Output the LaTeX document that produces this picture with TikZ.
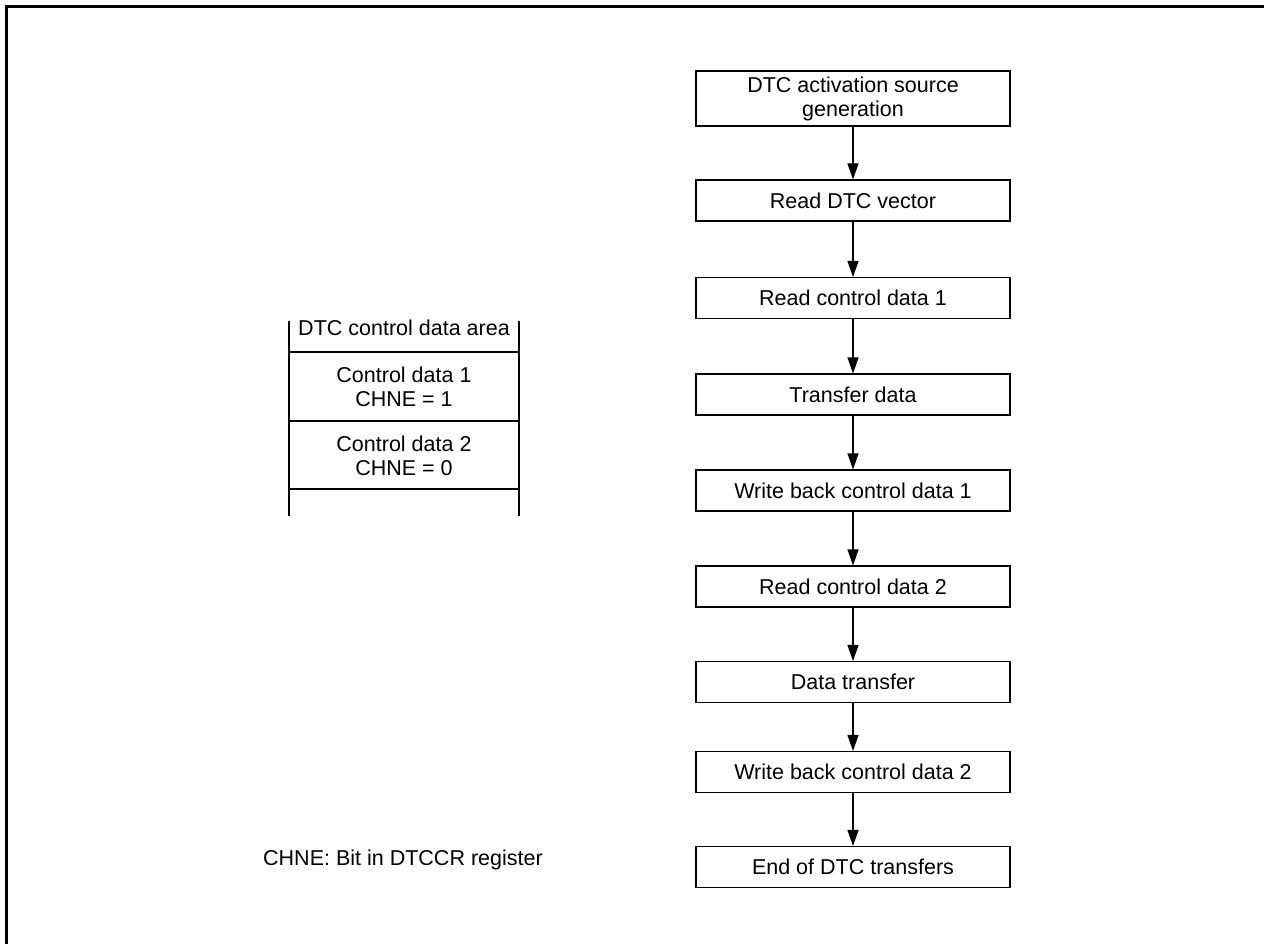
\documentclass[tikz,border=0pt]{standalone}
\usepackage{fontspec}
\setmainfont{Liberation Sans}
\usetikzlibrary{arrows.meta}
\tikzset{
  flowbox/.style={draw, line width=1.1pt, minimum width=314pt, minimum height=41pt, inner sep=0pt, align=center},
  tallbox/.style={flowbox, minimum height=55pt},
  arr/.style={line width=1.1pt, -{Triangle[length=16pt,width=11pt]}},
  lbl/.style={inner sep=0pt, align=center},
  frameline/.style={line width=3pt},
  cellline/.style={line width=1.1pt}
}
\begin{document}
\begin{tikzpicture}[x=1pt,y=-1pt,font=\fontsize{21.5}{24}\selectfont]
\useasboundingbox (0,0) rectangle (1264,944);
% frame
\draw[frameline] (6.5,944) -- (6.5,6.5) -- (1264,6.5);
% flowchart
\node[tallbox] (b1) at (853,98.5) {DTC activation source\\generation};
\node[flowbox] (b2) at (853,200.5) {Read DTC vector};
\node[flowbox] (b3) at (853,298) {Read control data 1};
\node[flowbox] (b4) at (853,394.5) {Transfer data};
\node[flowbox] (b5) at (853,490.5) {Write back control data 1};
\node[flowbox] (b6) at (853,586.5) {Read control data 2};
\node[flowbox] (b7) at (853,682) {Data transfer};
\node[flowbox] (b8) at (853,772) {Write back control data 2};
\node[flowbox] (b9) at (853,867) {End of DTC transfers};
\foreach \a/\b in {b1/b2,b2/b3,b3/b4,b4/b5,b5/b6,b6/b7,b7/b8,b8/b9}
  \draw[arr] (\a) -- (\b);
% control data area
\node[lbl] (title) at (404,328) {DTC control data area};
\draw[cellline] (289,321) -- (289,516);
\draw[cellline] (519,321) -- (519,516);
\draw[cellline] (289,352) -- (519,352);
\draw[cellline] (289,421) -- (519,421);
\draw[cellline] (289,489) -- (519,489);
\node[lbl] (cd1) at (404,387) {Control data 1\\CHNE = 1};
\node[lbl] (cd2) at (404,455.5) {Control data 2\\CHNE = 0};
% note
\node[lbl, anchor=west] (note) at (263,860) {CHNE: Bit in DTCCR register};
\end{tikzpicture}
\end{document}
